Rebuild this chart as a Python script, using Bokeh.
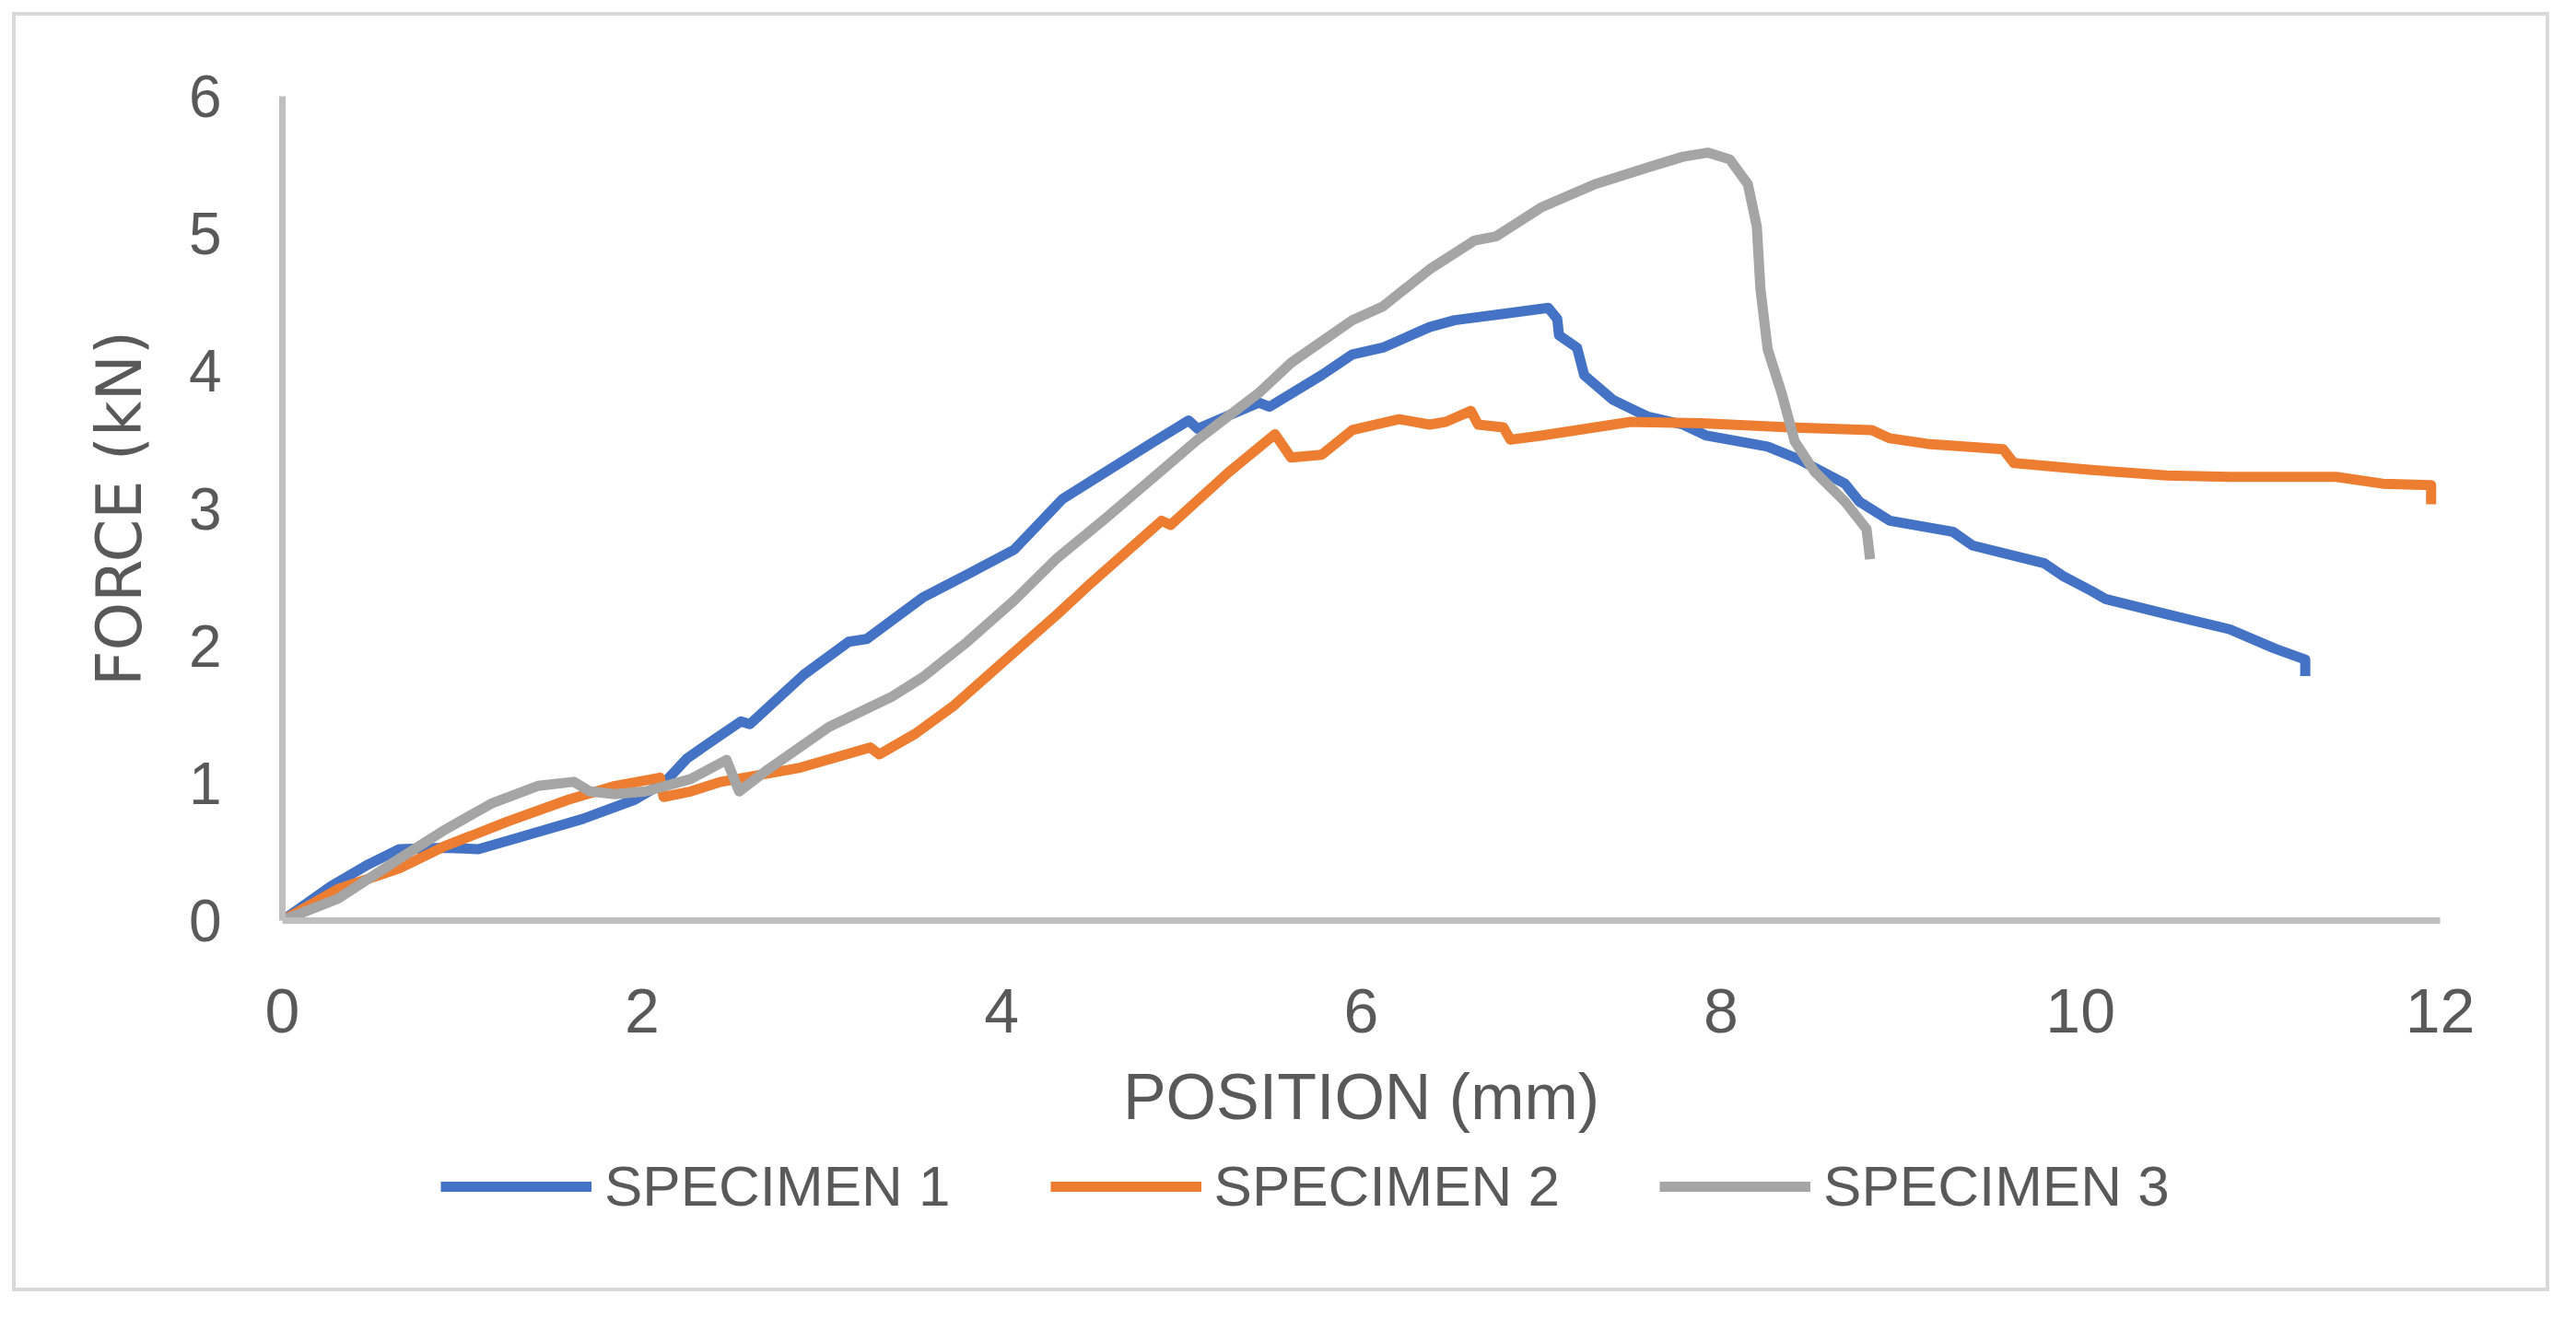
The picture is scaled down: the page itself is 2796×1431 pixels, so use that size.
from bokeh.plotting import figure
from bokeh.models import Range1d, Legend, LegendItem, FixedTicker, Spacer
from bokeh.layouts import column, row
from bokeh.embed import file_html
from bokeh.resources import INLINE

# ---- data ----
s1_x = [0, 0.27, 0.48, 0.65, 0.90, 1.09, 1.33, 1.67, 1.96, 2.13, 2.25, 2.36, 2.55, 2.60,
        2.90, 3.15, 3.25, 3.56, 3.81, 4.07, 4.34, 4.84, 5.04, 5.09, 5.43, 5.49, 5.78, 5.95,
        6.12, 6.38, 6.52, 6.81, 7.04, 7.09, 7.10, 7.20, 7.24, 7.40, 7.59, 7.79, 7.92, 8.26,
        8.43, 8.69, 8.77, 8.94, 9.29, 9.40, 9.80, 9.90, 10.06, 10.14, 10.48, 10.83, 11.08,
        11.25, 11.25]
s1_y = [0, 0.25, 0.41, 0.52, 0.53, 0.52, 0.61, 0.74, 0.88, 1.01, 1.18, 1.28, 1.45, 1.43,
        1.79, 2.03, 2.05, 2.35, 2.52, 2.70, 3.07, 3.48, 3.64, 3.58, 3.77, 3.74, 3.97, 4.12,
        4.17, 4.32, 4.37, 4.42, 4.46, 4.38, 4.26, 4.17, 3.97, 3.79, 3.67, 3.61, 3.53, 3.45,
        3.36, 3.18, 3.05, 2.91, 2.83, 2.73, 2.60, 2.51, 2.40, 2.34, 2.23, 2.12, 1.98,
        1.90, 1.78]

s2_x = [0, 0.31, 0.65, 0.90, 1.25, 1.59, 1.85, 2.10, 2.12, 2.27, 2.44, 2.87, 3.27, 3.32,
        3.52, 3.73, 3.98, 4.31, 4.50, 4.89, 4.94, 5.26, 5.52, 5.61, 5.78, 5.95, 6.21, 6.38,
        6.47, 6.61, 6.65, 6.79, 6.83, 7.00, 7.50, 7.89, 8.38, 8.84, 8.94, 9.15, 9.57, 9.63,
        10.06, 10.48, 10.83, 11.42, 11.68, 11.95, 11.95]
s2_y = [0, 0.23, 0.38, 0.54, 0.72, 0.88, 0.98, 1.04, 0.90, 0.94, 1.01, 1.11, 1.26, 1.21,
        1.36, 1.56, 1.85, 2.23, 2.46, 2.91, 2.88, 3.26, 3.54, 3.37, 3.39, 3.57, 3.65, 3.61,
        3.63, 3.71, 3.61, 3.59, 3.50, 3.53, 3.63, 3.62, 3.59, 3.57, 3.51, 3.47, 3.43, 3.33,
        3.28, 3.24, 3.23, 3.23, 3.18, 3.17, 3.03]

s3_x = [0, 0.31, 0.65, 0.89, 1.16, 1.42, 1.62, 1.71, 1.85, 2.02, 2.27, 2.47, 2.54, 2.70,
        3.04, 3.39, 3.56, 3.81, 4.07, 4.31, 4.58, 5.09, 5.43, 5.61, 5.95, 6.12, 6.38, 6.63,
        6.75, 7.00, 7.30, 7.59, 7.79, 7.93, 8.05, 8.15, 8.20, 8.22, 8.26, 8.34, 8.41, 8.52,
        8.69, 8.81, 8.83]
s3_y = [0, 0.16, 0.45, 0.65, 0.85, 0.98, 1.01, 0.94, 0.92, 0.94, 1.03, 1.17, 0.94, 1.10,
        1.41, 1.63, 1.77, 2.03, 2.33, 2.64, 2.93, 3.50, 3.84, 4.06, 4.37, 4.47, 4.74, 4.95,
        4.98, 5.19, 5.36, 5.48, 5.56, 5.59, 5.54, 5.36, 5.05, 4.60, 4.16, 3.83, 3.49, 3.27,
        3.05, 2.85, 2.63]

series_names = ["SPECIMEN 1", "SPECIMEN 2", "SPECIMEN 3"]
series_colors = ["#4472C4", "#ED7D31", "#A5A5A5"]
x_ticks = [0, 2, 4, 6, 8, 10, 12]
y_ticks = [0, 1, 2, 3, 4, 5, 6]
x_title = "POSITION (mm)"
y_title = "FORCE (kN)"

TEXT = "#595959"
FONT = "Liberation Sans"
W = 2746
series = list(zip([s1_x, s2_x, s3_x], [s1_y, s2_y, s3_y], series_colors))

# ---- main chart ----
p = figure(width=W, height=1215, output_backend="svg", toolbar_location=None,
           x_range=Range1d(0, 12), y_range=Range1d(0, 6),
           min_border_left=289, min_border_right=115, min_border_top=87,
           min_border_bottom=229)
p.xgrid.visible = False
p.ygrid.visible = False
p.outline_line_color = None
p.background_fill_color = "white"
p.border_fill_color = "white"

for xs, ys, c in series:
    p.line(xs, ys, line_color=c, line_width=11, line_join="round")

for ax in (p.xaxis[0], p.yaxis[0]):
    ax.axis_line_color = "#BFBFBF"
    ax.axis_line_width = 7
    ax.major_tick_line_color = None
    ax.minor_tick_line_color = None
    ax.major_tick_out = 0
    ax.major_tick_in = 0
    ax.major_label_text_color = TEXT
    ax.axis_label_text_color = TEXT
    ax.axis_label_text_font_style = "normal"

p.xaxis.ticker = FixedTicker(ticks=x_ticks)
p.yaxis.ticker = FixedTicker(ticks=y_ticks)

p.xaxis.major_label_text_font = FONT
p.xaxis.major_label_text_font_size = "68px"
p.xaxis.major_label_standoff = 74
p.xaxis.axis_label = x_title
p.xaxis.axis_label_text_font = FONT
p.xaxis.axis_label_text_font_size = "70px"
p.xaxis.axis_label_standoff = 28

p.yaxis.major_label_text_font = FONT
p.yaxis.major_label_text_font_size = "64px"
p.yaxis.major_label_standoff = 66
p.yaxis.axis_label = y_title
p.yaxis.axis_label_text_font = "DejaVu Sans"
p.yaxis.axis_label_text_font_size = "67px"
p.yaxis.axis_label_standoff = 33

# ---- legend strip (its series lines sit outside its visible y range) ----
lg = figure(width=W, height=166, output_backend="svg", toolbar_location=None,
            x_range=Range1d(0, 1), y_range=Range1d(-2, -1),
            x_axis_location=None, y_axis_location=None,
            min_border_left=289, min_border_right=115, min_border_top=0,
            min_border_bottom=0)
lg.xgrid.visible = False
lg.ygrid.visible = False
lg.outline_line_color = None
lg.background_fill_color = "white"
lg.border_fill_color = "white"

legend_renderers = [lg.line(xs, ys, line_color=c, line_width=11) for xs, ys, c in series]
legend = Legend(items=[LegendItem(label=n, renderers=[r]) for n, r in zip(series_names, legend_renderers)],
                orientation="horizontal", location=(172, 75),
                glyph_width=164, glyph_height=70, label_height=70, label_width=372,
                label_standoff=14, spacing=108, padding=0, margin=0,
                border_line_color=None, background_fill_alpha=0,
                label_text_font=FONT, label_text_font_size="62px",
                label_text_color=TEXT)
lg.add_layout(legend)

framed = column(p, lg, spacing=0)
framed.styles = {"border": "4px solid #D9D9D9", "background-color": "white"}

root = column(Spacer(height=13, width=10), row(Spacer(width=13, height=10), framed, spacing=0), spacing=0)

open("out.html", "w").write(file_html(root, INLINE))
